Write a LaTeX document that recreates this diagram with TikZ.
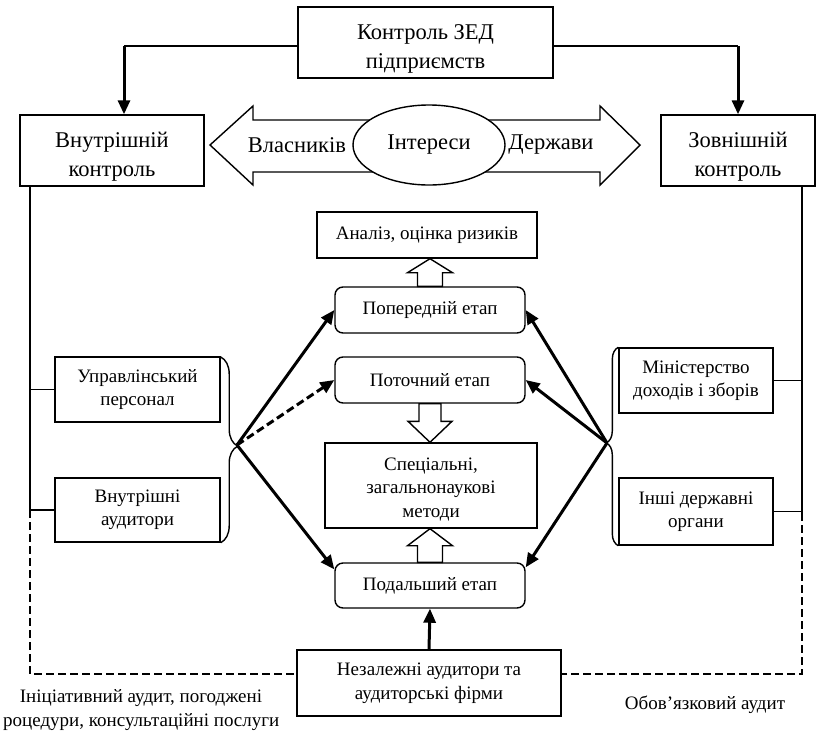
\documentclass[tikz,border=0pt]{standalone}
\usepackage{fontspec}
\setmainfont{Liberation Serif}
\usetikzlibrary{arrows.meta,calc,decorations.pathreplacing,shapes.geometric}
\newcommand\tup{\rule{0pt}{28pt}}
\tikzset{
  bigtxt/.style={font=\fontsize{22.5}{29}\selectfont},
  smalltxt/.style={font=\fontsize{19}{23.5}\selectfont},
  bigbox/.style={draw,line width=1.4pt,fill=white,align=center,inner sep=0pt,bigtxt},
  smallbox/.style={draw,line width=1.4pt,fill=white,align=center,inner sep=0pt,smalltxt},
  stagebox/.style={smallbox,rounded corners=8pt},
  thin line/.style={line width=1.4pt},
  thickarr/.style={line width=3pt,-{Triangle[length=14pt,width=12pt]}},
  dasharr/.style={line width=3pt,dash pattern=on 8pt off 4pt,-{Triangle[length=14pt,width=12pt]}},
  dashline/.style={line width=2.6pt,dash pattern=on 8pt off 4pt},
  hollow/.style={draw,line width=1.4pt,fill=white,line join=miter},
  lbl/.style={align=center,smalltxt,inner sep=0pt}
}
\newcommand\hollowup[3]{%
  \path[hollow] let \p1=(#1), \p2=(#2) in
   (\x1-12.5pt,\y1) -- (\x1-12.5pt,\y2-#3) -- (\x1-22.5pt,\y2-#3) -- (\x1,\y2)
   -- (\x1+22.5pt,\y2-#3) -- (\x1+12.5pt,\y2-#3) -- (\x1+12.5pt,\y1) -- cycle;}
\newcommand\hollowdown[3]{%
  \path[hollow] let \p1=(#1), \p2=(#2) in
   (\x1-11pt,\y1) -- (\x1-11pt,\y2+#3) -- (\x1-22pt,\y2+#3) -- (\x1,\y2)
   -- (\x1+22pt,\y2+#3) -- (\x1+11pt,\y2+#3) -- (\x1+11pt,\y1) -- cycle;}
\begin{document}
\begin{tikzpicture}[x=1pt,y=1pt]
\useasboundingbox (0,0) rectangle (816,-734);
\clip (0,0) rectangle (816,-734);

% top nodes
\node[bigbox,minimum width=255pt,minimum height=71pt] (top) at (425.5,-42.5) {\tup Контроль ЗЕД\\підприємств};
\node[bigbox,minimum width=184pt,minimum height=71pt] (vn) at (112,-150.5) {\tup Внутрішній\\контроль};
\node[bigbox,minimum width=154pt,minimum height=71pt] (zv) at (738,-150.5) {\tup Зовнішній\\контроль};

% connectors top
\coordinate (la) at (124,-46);
\coordinate (ra) at (738,-46);
\draw[thin line] (la -| top.west) -- (la);
\draw[thin line] (ra -| top.east) -- (ra);
\draw[thickarr] (la) -- (la |- vn.north);
\draw[thickarr] (ra) -- (ra |- zv.north);

% big hollow arrows
\path[hollow] (210,-145) -- (253,-106) -- (253,-120) -- (390,-120) -- (390,-172)
  -- (253,-172) -- (253,-185) -- cycle;
\path[hollow] (640,-145) -- (600,-106) -- (600,-120) -- (470,-120) -- (470,-172)
  -- (600,-172) -- (600,-185) -- cycle;
\node[draw,line width=1.4pt,fill=white,ellipse,minimum width=152pt,minimum height=80pt,inner sep=0pt,bigtxt] (int) at (429,-145) {Інтереси};
\node[bigtxt,inner sep=0pt] (vl) at (297,-145) {Власників};
\node[bigtxt,inner sep=0pt] (dz) at (551,-145) {Держави};

% center column
\node[smallbox,minimum width=220pt,minimum height=46pt] (an) at (427,-235) {Аналіз, оцінка ризиків};
\node[stagebox,minimum width=190pt,minimum height=46pt] (pop) at (430,-310) {Попередній етап};
\node[stagebox,minimum width=190pt,minimum height=46pt] (pot) at (430,-380) {Поточний етап};
\node[smallbox,minimum width=212pt,minimum height=85pt] (sp) at (431,-485.5) {\rule{0pt}{20pt}Спеціальні,\\загальнонаукові\\методи};
\node[stagebox,minimum width=190pt,minimum height=45pt] (pod) at (430,-585.5) {Подальший етап};
\node[smallbox,minimum width=264pt,minimum height=66pt] (nez) at (429,-683) {Незалежні аудитори та\\аудиторські фірми};

\hollowup{pop.north}{an.south}{14pt}
\hollowdown{pot.south}{sp.north}{21pt}
\hollowup{pod.north}{sp.south}{17pt}

% side boxes
\node[smallbox,minimum width=165pt,minimum height=65pt] (up) at (137.5,-389.5) {Управлінський\\персонал};
\node[smallbox,minimum width=165pt,minimum height=64pt] (va) at (137.5,-510) {Внутрішні\\аудитори};
\node[smallbox,minimum width=154pt,minimum height=65pt] (mi) at (696,-380.5) {Міністерство\\доходів і зборів};
\node[smallbox,minimum width=154pt,minimum height=67pt] (in) at (696,-511.5) {Інші державні\\органи};

% side vertical lines
\coordinate (lx) at (30,-186);
\coordinate (lc) at (30,-510);
\coordinate (lb) at (30,-674);
\coordinate (rx) at (802,-186);
\coordinate (rc) at (802,-513);
\coordinate (rb) at (802,-674);
\draw[thin line] (lx) -- (lc);
\draw[thin line] (rx) -- (rc);
\draw[thin line] (up.west) -- (up.west -| lx);
\draw[thin line] (va.west) -- (va.west -| lx);
\draw[thin line] (mi.east) -- (mi.east -| rx);
\draw[thin line] (in.east) -- (in.east -| rx);
\draw[dashline] (lc) -- (lb) -- (lb -| nez.west);
\draw[dashline] (rc) -- (rb) -- (rb -| nez.east);

% braces
\draw[thin line,decorate,decoration={brace,amplitude=17pt,aspect=0.48}] (va.south east |- 220,-357) -- (va.south east);
\coordinate (lt) at (237,-445);
\draw[thin line,decorate,decoration={brace,amplitude=12pt,aspect=0.518}] (in.south west) -- (in.south west |- mi.north west);
\coordinate (rt) at (607,-443);

% stage arrows
\draw[thickarr] (lt) -- (pop.west);
\draw[dasharr] (lt) -- (pot.west);
\draw[thickarr] (lt) -- ($(pod.north west)+(0,-7)$);
\draw[thickarr] (rt) -- (pop.east);
\draw[thickarr] (rt) -- (pot.east);
\draw[thickarr] (rt) -- ($(pod.north east)+(0,-5)$);
\draw[thickarr] (nez.north) -- (pod.south);

% labels
\node[lbl,anchor=north] (l1) at (141,-689) {Ініціативний аудит, погоджені};
\node[lbl,anchor=north west] (l2) at (3,-713) {роцедури, консультаційні послуги};
\node[lbl] (l3) at (705,-705) {Обов’язковий аудит};
\end{tikzpicture}
\end{document}
